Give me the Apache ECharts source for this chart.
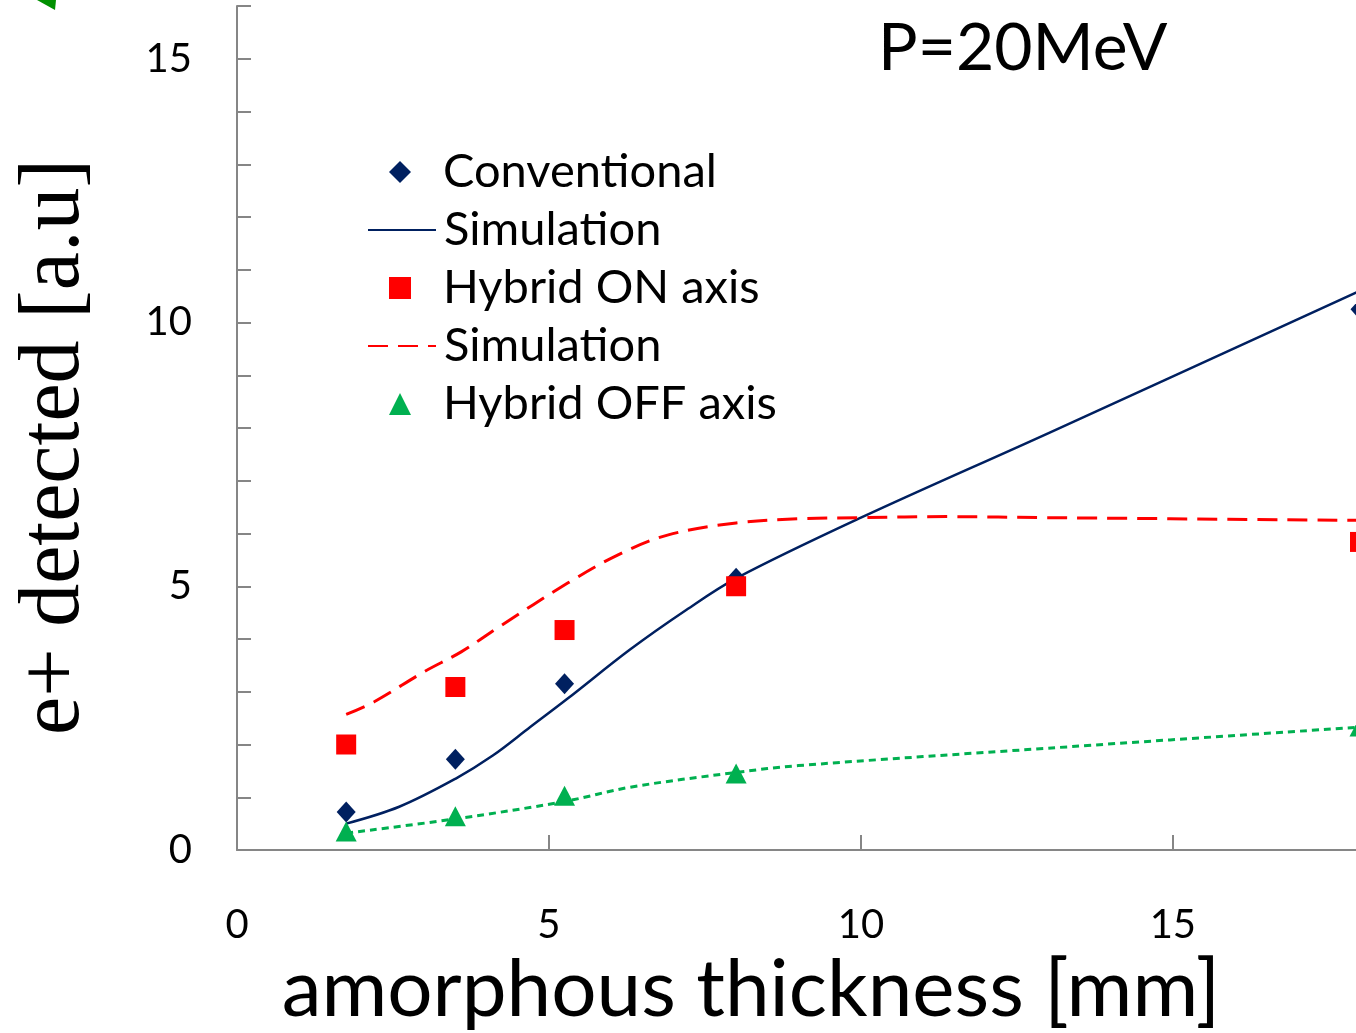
<!DOCTYPE html>
<html>
<head>
<meta charset="utf-8">
<script src="https://cdn.jsdelivr.net/npm/echarts@6/dist/echarts.min.js"></script>
<style>html,body{margin:0;padding:0;background:#fff;}#c{width:1356px;height:1033px;}</style>
</head>
<body>
<div id="c"></div>
<script>
// measured thickness [mm]
var thickness = [1.75, 3.5, 5.25, 8, 18];
var conventional = [0.72, 1.72, 3.15, 5.15, 10.25];
var hybridOn = [2.0, 3.09, 4.17, 5.0, 5.84];
var hybridOff = [0.35, 0.64, 1.03, 1.45, 2.34];

// simulation curves
var simConvX = [1.75, 2.6, 3.5, 4.1, 4.7, 5.3, 6.3, 7.2, 8, 10, 13, 18];
var simConvY = [0.5, 0.82, 1.35, 1.79, 2.33, 2.87, 3.8, 4.55, 5.15, 6.3, 7.9, 10.6];
var simOnX = [1.75, 2.2, 3.0, 3.6, 4.2, 5.3, 6.1, 6.9, 8, 9, 10, 11.4, 13, 18];
var simOnY = [2.57, 2.81, 3.38, 3.76, 4.23, 5.06, 5.59, 5.97, 6.2, 6.28, 6.3, 6.32, 6.3, 6.25];
var simOffX = [1.75, 3.5, 5.25, 6.3, 8, 9, 13, 18];
var simOffY = [0.32, 0.59, 0.92, 1.19, 1.47, 1.6, 1.93, 2.33];

var legendNames = ['Conventional', 'Simulation', 'Hybrid ON axis', 'Simulation ', 'Hybrid OFF axis'];
var legendIsLine = [false, true, false, true, false];

function zip(xs, ys) { return xs.map(function (x, i) { return [x, ys[i]]; }); }

var navy = '#002060', red = '#FF0000', green = '#00B050', axisGray = '#868686';
var legendColors = [navy, navy, red, red, green];
var sans = 'Lato';

var legends = legendNames.map(function (n, i) {
  var isLine = legendIsLine[i];
  return {
    orient: 'vertical', padding: 0, itemGap: 0,
    top: 143 + 58 * i,
    left: isLine ? 367 : 389,
    itemWidth: isLine ? 68 : 22, itemHeight: isLine ? 20 : 22,
    itemStyle: isLine ? { opacity: 0 } : { color: legendColors[i], opacity: 1 },
    textStyle: { fontFamily: sans, fontSize: 47, color: '#000', lineHeight: 58,
      padding: [0, 0, 0, isLine ? 3 : 27] },
    formatter: function (s) { return s.trim(); },
    data: [n]
  };
});

var chart = echarts.init(document.getElementById('c'), null, { renderer: 'canvas' });
chart.setOption({
  animation: false,
  backgroundColor: '#fff',
  grid: { left: 237, top: 6, right: -4, bottom: 183, containLabel: false, outerBoundsMode: 'none' },
  xAxis: {
    type: 'value', min: 0, max: 18, interval: 5,
    axisLine: { show: true, lineStyle: { color: axisGray, width: 2 } },
    axisTick: { show: true, inside: true, length: 15, lineStyle: { color: axisGray, width: 2 } },
    splitLine: { show: false },
    axisLabel: {
      margin: 55, fontFamily: sans, fontSize: 40, color: '#000',
      formatter: function (v) { return v % 5 === 0 ? String(v) : ''; }
    }
  },
  yAxis: {
    type: 'value', min: 0, max: 16, interval: 1,
    axisLine: { show: true, lineStyle: { color: axisGray, width: 2 } },
    axisTick: { show: true, inside: true, length: 14, lineStyle: { color: axisGray, width: 2 } },
    splitLine: { show: false },
    axisLabel: {
      margin: 45, fontFamily: sans, fontSize: 40, color: '#000',
      formatter: function (v) { return v % 5 === 0 ? String(v) : ''; }
    }
  },
  legend: legends,
  graphic: [
    { type: 'text', x: 55, y: 447, rotation: Math.PI / 2,
      style: { text: 'e+ detected [a.u]', fontFamily: 'Liberation Serif', fontSize: 86, fill: '#000',
        textAlign: 'center', textVerticalAlign: 'middle', align: 'center', verticalAlign: 'middle' } },
    { type: 'text', x: 751, y: 990,
      style: { text: 'amorphous thickness [mm]', fontFamily: sans, fontSize: 80, fill: '#000',
        textAlign: 'center', textVerticalAlign: 'middle', align: 'center', verticalAlign: 'middle' } },
    { type: 'text', x: 878, y: 49,
      style: { text: 'P=20MeV', fontFamily: sans, fontSize: 66, fill: '#000',
        textAlign: 'left', textVerticalAlign: 'middle', align: 'left', verticalAlign: 'middle' } },
    { type: 'polygon', shape: { points: [[37, 0], [56, 0], [55, 10]] }, style: { fill: '#009000' } }
  ],
  series: [
    { name: 'Conventional', type: 'scatter', symbol: 'diamond', symbolSize: [19, 21],
      itemStyle: { color: navy, opacity: 1 }, data: zip(thickness, conventional), z: 5 },
    { name: 'Simulation', type: 'line', smooth: 0.35, symbol: 'none',
      lineStyle: { color: navy, width: 2.5, type: 'solid' }, itemStyle: { color: navy },
      data: zip(simConvX, simConvY), z: 3 },
    { name: 'Hybrid ON axis', type: 'scatter', symbol: 'rect', symbolSize: 20,
      itemStyle: { color: red, opacity: 1 }, data: zip(thickness, hybridOn), z: 6 },
    { name: 'Simulation ', type: 'line', smooth: 0.35, symbol: 'none',
      lineStyle: { color: red, width: 3, type: [20, 10] }, itemStyle: { color: red },
      data: zip(simOnX, simOnY), z: 3 },
    { name: 'Hybrid OFF axis', type: 'scatter', symbol: 'triangle', symbolSize: [21, 20],
      itemStyle: { color: green, opacity: 1 }, data: zip(thickness, hybridOff), z: 5 },
    { name: 'Hybrid OFF sim', type: 'line', smooth: 0.35, symbol: 'none',
      lineStyle: { color: green, width: 3, type: [7, 5] }, itemStyle: { color: green },
      data: zip(simOffX, simOffY), z: 3 }
  ]
});
</script>
</body>
</html>
